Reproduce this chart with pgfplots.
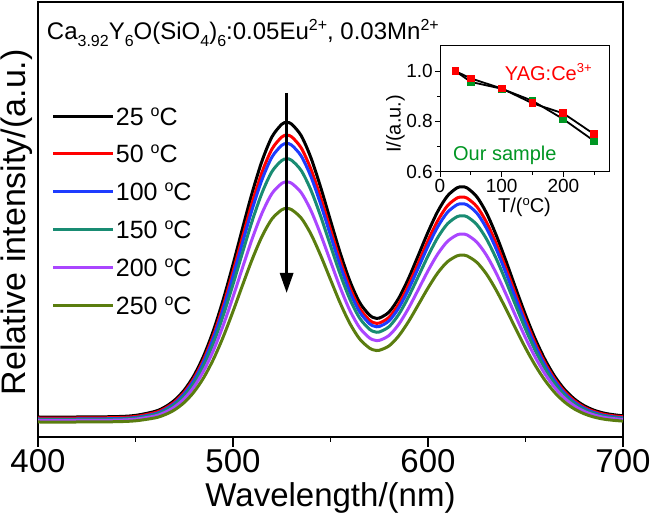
\documentclass[border=0pt]{standalone}
\usepackage{fontspec}
\setmainfont{Liberation Sans}
\usepackage{pgfplots}
\pgfplotsset{compat=1.18}
\usepackage{pgfplotstable}
\usetikzlibrary{arrows.meta}

\definecolor{cblue}{RGB}{30,60,255}
\definecolor{cteal}{RGB}{25,140,115}
\definecolor{cpurple}{RGB}{170,70,255}
\definecolor{colive}{RGB}{90,125,15}
\definecolor{ogreen}{RGB}{0,150,35}

\newcommand\fs[1]{\fontsize{#1}{#1}\selectfont}
% raised / lowered small text: shift, size, text
\newcommand\rs[3]{\raisebox{#1}{\fs{#2}#3}}
\newcommand\degC{\rs{9pt}{16}{o}C}

% emission spectra, columns = 25, 50, 100, 150, 200, 250 C
\pgfplotstableread{
wl k r b t p g
400 20.0 19.0 18.0 17.5 16.5 15.0
420 20.0 19.0 18.0 17.5 16.5 15.0
440 20.4 19.4 18.4 17.9 16.8 15.3
450 21.6 20.5 19.5 18.9 17.8 16.2
460 25.6 24.4 23.2 22.5 21.0 19.1
465 29.9 28.5 27.3 26.3 24.5 22.2
470 36.7 35.0 33.6 32.3 30.0 27.1
475 46.9 44.8 43.2 41.3 38.3 34.5
480 61.5 58.8 56.8 54.2 50.1 45.1
485 81.3 77.8 75.3 71.8 66.2 59.4
490 106.7 102.2 99.1 94.2 86.7 77.9
495 137.5 131.8 127.9 121.5 111.7 100.2
500 172.5 165.4 160.6 152.5 140.0 125.6
505 209.5 200.9 195.2 185.2 170.0 152.4
510 245.4 235.4 228.7 217.0 199.1 178.4
515 276.7 265.4 258.0 244.7 224.4 201.1
520 300.2 288.0 280.0 265.5 243.5 218.1
525 312.7 300.0 291.7 276.5 253.6 227.2
527.5 314.5 301.7 293.4 278.1 255.0 228.5
530 313.0 300.3 292.0 276.8 253.8 227.4
535 301.2 289.0 280.9 266.4 244.3 218.9
540 279.0 267.6 260.2 246.7 226.3 202.8
545 249.4 239.2 232.5 220.5 202.3 181.3
550 216.4 207.5 201.6 191.3 175.6 157.4
555 183.9 176.3 171.2 162.6 149.3 133.8
560 155.6 149.2 144.8 137.5 126.3 113.3
565 134.3 128.7 124.9 118.7 109.1 97.9
570 121.9 116.8 113.3 107.7 99.0 88.9
572.5 119.2 114.2 110.8 105.3 96.9 86.9
575 118.9 113.9 110.5 105.0 96.6 86.7
580 124.9 119.7 116.1 110.3 101.5 91.1
585 138.8 133.0 129.1 122.6 112.7 101.1
590 158.5 152.0 147.5 140.1 128.7 115.4
595 181.5 174.0 169.0 160.4 147.3 132.1
600 204.8 196.4 190.8 181.0 166.2 149.0
605 225.6 216.4 210.2 199.5 183.0 164.1
610 241.1 231.3 224.7 213.2 195.6 175.3
615 249.3 239.1 232.4 220.4 202.2 181.2
617.5 250.1 239.9 233.1 221.1 202.9 181.8
620 249.1 238.9 232.2 220.3 202.1 181.1
625 240.3 230.5 224.0 212.5 194.9 174.7
630 224.0 214.8 208.7 198.0 181.7 162.9
635 201.7 193.4 187.9 178.3 163.7 146.7
640 175.9 168.7 163.8 155.5 142.8 128.0
645 148.6 142.5 138.2 131.3 120.7 108.2
650 122.1 117.0 113.5 107.9 99.2 89.0
655 98.0 93.9 90.9 86.5 79.7 71.6
660 77.4 74.1 71.7 68.3 63.0 56.6
665 60.6 58.0 56.0 53.4 49.4 44.4
670 47.6 45.5 43.8 41.9 38.9 35.0
675 38.1 36.4 34.9 33.5 31.2 28.1
680 31.4 29.9 28.7 27.6 25.7 23.3
685 26.9 25.6 24.5 23.6 22.1 20.0
690 24.0 22.8 21.7 21.0 19.7 17.9
695 22.3 21.2 20.2 19.5 18.4 16.7
700 21.2 20.2 19.1 18.6 17.5 15.9
}\spectra

% inset: relative intensity vs temperature
\pgfplotstableread{
T yag our
25 1.000 1.000
50 0.971 0.957
100 0.931 0.930
150 0.872 0.882
200 0.832 0.809
250 0.749 0.722
}\thermal

\begin{document}
\begin{tikzpicture}
\useasboundingbox (-38pt,-81pt) rectangle (612pt,437pt);
\begin{axis}[
    at={(0pt,0pt)}, anchor=south west,
    scale only axis, width=585pt, height=435pt,
    xmin=400, xmax=700, ymin=0, ymax=435,
    xtick={400,500,600,700}, minor xtick={450,550,650},
    ytick=\empty,
    xtick pos=bottom,
    tick align=outside,
    major tick length=10pt, minor tick length=5pt,
    axis line style={line width=1.6pt},
    every tick/.style={black, line width=1.6pt},
    tick label style={font=\fs{33}},
    xticklabel style={inner sep=0pt, yshift=-2pt},
    /pgf/number format/assume math mode=true,
    xlabel={Wavelength/(nm)},
    xlabel style={font=\fs{33}, inner sep=0pt, at={(axis description cs:0.5,0)}, anchor=center, yshift=-61pt},
    ylabel={Relative intensity/(a.u.)},
    ylabel style={font=\fs{34}, inner sep=0pt, at={(axis description cs:-0.021,0.494)}, anchor=base},
    legend image code/.code={\draw[#1] (0pt,0pt) -- (60pt,0pt);},
    legend style={at={(axis cs:407,331)}, anchor=north west, draw=none, fill=none,
        inner sep=0pt, row sep=17.8pt, column sep=0pt, font=\fs{25},
        nodes={inner sep=1pt, text height=18pt, text depth=0pt}},
    legend cell align=left,
]
\addplot[black, line width=3pt, smooth] table[x=wl, y=k] {\spectra};
\addlegendentry{25 \degC}
\addplot[red, line width=3pt, smooth] table[x=wl, y=r] {\spectra};
\addlegendentry{50 \degC}
\addplot[cblue, line width=3pt, smooth] table[x=wl, y=b] {\spectra};
\addlegendentry{100 \degC}
\addplot[cteal, line width=3pt, smooth] table[x=wl, y=t] {\spectra};
\addlegendentry{150 \degC}
\addplot[cpurple, line width=3pt, smooth] table[x=wl, y=p] {\spectra};
\addlegendentry{200 \degC}
\addplot[colive, line width=3pt, smooth] table[x=wl, y=g] {\spectra};
\addlegendentry{250 \degC}
\draw[line width=3pt, -{Triangle[width=13pt,length=20pt]}] (axis cs:527.5,344) -- (axis cs:527.5,144);
\node[anchor=base west, inner sep=0pt, font=\fs{24}] at (rel axis cs:0.015,0.913)
  {Ca\rs{-7pt}{16}{3.92}Y\rs{-7pt}{16}{6}O(SiO\rs{-7pt}{16}{4})\rs{-7pt}{16}{6}:0.05Eu\rs{9pt}{16}{2+}, 0.03Mn\rs{9pt}{16}{2+}};
\end{axis}

\begin{axis}[
    at={(402pt,265.3pt)}, anchor=south west,
    scale only axis, width=169pt, height=125.7pt,
    xmin=0, xmax=274, ymin=0.6, ymax=1.1,
    xtick={0,100,200}, minor xtick={50,150,250},
    ytick={0.6,0.8,1.0}, minor ytick={0.7,0.9},
    xtick pos=bottom, ytick pos=left,
    tick align=outside,
    major tick length=5pt, minor tick length=3pt,
    axis line style={line width=1pt},
    every tick/.style={black, line width=1pt},
    axis background/.style={fill=white},
    tick label style={font=\fs{19}},
    xticklabel style={inner sep=0pt, yshift=-2pt},
    yticklabel style={inner sep=0pt, xshift=-2pt, /pgf/number format/.cd, fixed, fixed zerofill, precision=1},
    /pgf/number format/assume math mode=true,
    xlabel={T/(\rs{7pt}{13}{o}C)},
    xlabel style={font=\fs{20}, inner sep=0pt, at={(axis description cs:0.5,0)}, anchor=center, yshift=-36pt},
    ylabel={I/(a.u.)},
    ylabel style={font=\fs{20}, inner sep=0pt, at={(axis description cs:-0.263,0.38)}, anchor=center},
]
\addplot[black, line width=1.8pt, mark=square*, mark size=3pt, mark options={fill=ogreen, draw=ogreen}] table[x=T, y=our] {\thermal};
\addplot[black, line width=1.8pt, mark=square*, mark size=3pt, mark options={fill=red, draw=red}] table[x=T, y=yag] {\thermal};
\node[anchor=base west, inner sep=0pt, text=red, font=\fs{20}] at (axis cs:105,0.964) {YAG:Ce\rs{8pt}{13}{3+}};
\node[anchor=base west, inner sep=0pt, text=ogreen, font=\fs{20}] at (axis cs:21,0.646) {Our sample};
\end{axis}
\end{tikzpicture}
\end{document}
